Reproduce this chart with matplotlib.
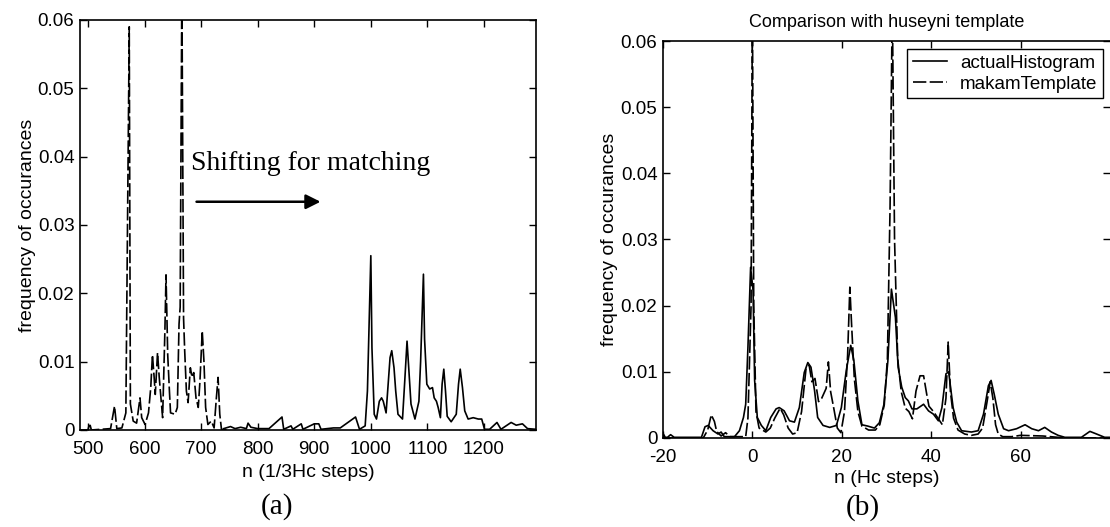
import numpy as np
import matplotlib
matplotlib.use("Agg")
import matplotlib.pyplot as plt

plt.rcParams['font.family'] = ['Liberation Sans', 'DejaVu Sans']
plt.rcParams['axes.unicode_minus'] = False

# (a) template in 1/3 Hc steps (dashed part)
tmpl_n = [486, 500, 503, 506, 540, 547, 551, 560, 567, 573, 575, 580, 586, 592, 595,
          601, 607, 611, 614, 617, 619, 623, 626, 629, 632, 636, 638, 641, 644, 646,
          654, 658, 661, 663, 666, 669, 671, 674, 677, 681, 684, 687, 691, 695, 698,
          702, 705, 708, 712, 718, 723, 727, 730, 733, 736, 745]
tmpl_y = [0.0, 0.0, 0.0010, 0.0, 0.0002, 0.0035, 0.0002, 0.0003, 0.0025, 0.0590, 0.0038,
          0.0013, 0.0010, 0.0047, 0.0018, 0.0008, 0.0025, 0.0062, 0.0110, 0.0077, 0.0052,
          0.0113, 0.0077, 0.0047, 0.0018, 0.0145, 0.0227, 0.0110, 0.0057, 0.0025, 0.0023,
          0.0033, 0.0155, 0.0180, 0.0655, 0.0164, 0.0116, 0.0057, 0.0040, 0.0091, 0.0077,
          0.0084, 0.0047, 0.0033, 0.0072, 0.0145, 0.0101, 0.0033, 0.0008, 0.0013, 0.0003,
          0.0047, 0.0077, 0.0023, 0.0001, 0.0]

# (a) actual histogram in 1/3 Hc steps (solid part)
hist_n = [740, 752, 760, 770, 780, 783, 788, 800, 820, 843, 846, 859, 862, 877, 880,
          900, 908, 912, 934, 946, 973, 980, 990, 994, 1000, 1002, 1006, 1010, 1015, 1019,
          1022, 1027, 1034, 1037, 1041, 1044, 1048, 1056, 1060, 1064, 1067, 1071, 1078,
          1085, 1088, 1093, 1095, 1099, 1104, 1109, 1112, 1116, 1119, 1123, 1126, 1129,
          1132, 1135, 1142, 1151, 1155, 1158, 1162, 1166, 1172, 1181, 1190, 1196, 1201,
          1210, 1223, 1230, 1248, 1257, 1268, 1277, 1292]
hist_y = [0.0002, 0.0005, 0.0002, 0.0004, 0.0002, 0.0010, 0.0004, 0.0002, 0.0002, 0.0019,
          0.0001, 0.0006, 0.0001, 0.0009, 0.0001, 0.0009, 0.0009, 0.0001, 0.0003, 0.0003,
          0.0019, 0.0001, 0.0006, 0.0057, 0.0255, 0.0120, 0.0023, 0.0016, 0.0042, 0.0047,
          0.0042, 0.0025, 0.0106, 0.0116, 0.0091, 0.0057, 0.0023, 0.0016, 0.0072, 0.0130,
          0.0091, 0.0038, 0.0016, 0.0042, 0.0100, 0.0228, 0.0133, 0.0067, 0.0060, 0.0062,
          0.0047, 0.0042, 0.0033, 0.0018, 0.0067, 0.0089, 0.0057, 0.0020, 0.0012, 0.0023,
          0.0067, 0.0089, 0.0062, 0.0028, 0.0016, 0.0018, 0.0016, 0.0016, 0.0001, 0.0001,
          0.0011, 0.0001, 0.0011, 0.0007, 0.0009, 0.0002, 0.0001]

# (b) actual histogram in Hc steps
act_n = [-20, -19.5, -19, -18.3, -17.5, -12, -11.4, -10.6, -9.9, -8.8, -7.7, -7.0, -6.3,
         -4.0, -2.9, -2.0, -1.5, -1.0, -0.4, 0.15, 0.5, 1.1, 2.0, 3.0, 4.1, 5.3, 6.0, 7.1,
         8.3, 9.4, 10.5, 11.6, 12.4, 13.1, 13.9, 14.6, 15.8, 17.3, 18.8, 19.9, 21.0, 22.0,
         22.7, 23.6, 24.5, 25.8, 27.3, 28.4, 29.4, 30.3, 31.1, 32.0, 32.6, 33.4, 34.2,
         34.9, 35.7, 36.8, 38.3, 39.4, 40.5, 41.6, 42.4, 43.3, 43.9, 44.9, 45.7, 46.8,
         49.0, 50.5, 51.7, 52.8, 53.4, 54.1, 55.0, 56.2, 57.3, 59.1, 61.0, 62.5, 64.0,
         65.4, 66.9, 68.4, 69.9, 73.6, 75.5, 77.0, 78.8, 80]
act_y = [0.0007, 0.0001, 0.0001, 0.0005, 0.0001, 0.0001, 0.0001, 0.0017, 0.0019, 0.0011,
         0.0006, 0.0009, 0.0002, 0.0002, 0.0011, 0.0031, 0.0051, 0.0137, 0.0258, 0.0223,
         0.0087, 0.0031, 0.0019, 0.0011, 0.0031, 0.0044, 0.0046, 0.0041, 0.0026, 0.0024,
         0.0046, 0.0099, 0.0114, 0.0107, 0.0072, 0.0031, 0.0019, 0.0016, 0.0019, 0.0046,
         0.0102, 0.0140, 0.0117, 0.0056, 0.0020, 0.0018, 0.0015, 0.0023, 0.0050, 0.0116,
         0.0225, 0.0182, 0.0107, 0.0077, 0.0061, 0.0056, 0.0044, 0.0044, 0.0051, 0.0041,
         0.0036, 0.0026, 0.0046, 0.0097, 0.0100, 0.0046, 0.0024, 0.0011, 0.0009, 0.0011,
         0.0036, 0.0079, 0.0087, 0.0066, 0.0036, 0.0014, 0.0011, 0.0014, 0.0020, 0.0014,
         0.0011, 0.0016, 0.0009, 0.0004, 0.0001, 0.0001, 0.0010, 0.0006, 0.0001, 0.0001]

# (b) makam template in Hc steps
mk_n = [-20, -11, -10, -9.2, -8.5, -8, -7, -6, -5, -1.5, -1, -0.3, 0, 0.3, 0.8, 1.5, 3,
        4, 5, 6.2, 7, 8, 9, 10, 11, 12, 12.7, 13.3, 14, 14.8, 15.5, 16.5, 17, 17.5, 18.2,
        19, 19.8, 20.6, 21.3, 21.8, 22.2, 22.8, 23.6, 24.5, 26, 27.5, 28.5, 29.5, 30.2,
        30.8, 31.3, 31.8, 32.5, 33.3, 34.2, 35, 35.8, 36.6, 37.5, 38.3, 39, 39.5, 40.5,
        41.5, 42.5, 43.3, 43.8, 44.3, 45, 46, 47.5, 49, 50.5, 51.5, 52.5, 53.2, 53.8,
        54.4, 55, 56, 58, 60, 65, 70, 80]
mk_y = [0.0, 0.0, 0.0012, 0.0035, 0.0025, 0.0010, 0.0003, 0.0008, 0.0002, 0.0002, 0.0030,
        0.0200, 0.0660, 0.0200, 0.0040, 0.0015, 0.0009, 0.0015, 0.0030, 0.0045, 0.0035,
        0.0015, 0.0006, 0.0008, 0.0040, 0.0105, 0.0110, 0.0085, 0.0090, 0.0055, 0.0060,
        0.0075, 0.0115, 0.0070, 0.0045, 0.0015, 0.0008, 0.0040, 0.0125, 0.0228, 0.0170,
        0.0090, 0.0040, 0.0018, 0.0012, 0.0012, 0.0020, 0.0050, 0.0120, 0.0350, 0.0660,
        0.0300, 0.0120, 0.0070, 0.0045, 0.0040, 0.0029, 0.0071, 0.0094, 0.0094, 0.0066,
        0.0048, 0.0040, 0.0030, 0.0020, 0.0060, 0.0145, 0.0070, 0.0030, 0.0012, 0.0006,
        0.0004, 0.0006, 0.0015, 0.0055, 0.0085, 0.0060, 0.0020, 0.0006, 0.0002, 0.0002,
        0.0004, 0.0003, 0.0, 0.0]

yticks = [0, 0.01, 0.02, 0.03, 0.04, 0.05, 0.06]
yticklabels = ['0', '0.01', '0.02', '0.03', '0.04', '0.05', '0.06']
ticks_a = [500, 600, 700, 800, 900, 1000, 1100, 1200]
ticks_b = [-20, 0, 20, 40, 60]

lw = 1.2
dash = (0, (8, 2))

fig = plt.figure(figsize=(11.1, 5.27), dpi=100)
ax1 = fig.add_axes([0.0721, 0.1841, 0.4108, 0.7780])
ax2 = fig.add_axes([0.5973, 0.1689, 0.4027, 0.7533])

def matlab_style(ax):
    for s in ax.spines.values():
        s.set_linewidth(1.2)
    ax.tick_params(direction='in', top=True, right=True, length=5, width=1.0,
                   labelsize=13.5, colors='black')
    ax.tick_params(axis='x', pad=8)
    ax.tick_params(axis='y', pad=4)
    ax.set_yticks(yticks)
    ax.set_yticklabels(yticklabels)
    ax.set_ylim(0, 0.06)

# (a)
ax1.plot(tmpl_n, tmpl_y, color='black', lw=lw, linestyle=dash)
ax1.plot(hist_n, hist_y, color='black', lw=lw)
matlab_style(ax1)
ax1.set_xlim(486, 1292)
ax1.set_xticks(ticks_a)
ax1.set_xlabel('n (1/3Hc steps)', fontsize=14, labelpad=4)
ax1.set_ylabel('frequency of occurances', fontsize=14, labelpad=1)
ax1.text(682, 0.039, 'Shifting for matching', family='Liberation Serif', fontsize=20,
         va='center', ha='left')
ax1.annotate('', xy=(916, 0.0334), xytext=(687, 0.0334),
             arrowprops=dict(arrowstyle='-|>', color='black', lw=1.8,
                             mutation_scale=22))

# (b)
ax2.plot(act_n, act_y, color='black', lw=lw, label='actualHistogram')
ax2.plot(mk_n, mk_y, color='black', lw=lw, linestyle=dash, label='makamTemplate')
matlab_style(ax2)
ax2.spines['right'].set_visible(False)
ax2.set_xlim(-20, 80)
ax2.set_xticks(ticks_b)
ax2.set_xlabel('n (Hc steps)', fontsize=14, labelpad=3)
ax2.set_ylabel('frequency of occurances', fontsize=14, labelpad=2)
ax2.set_title('Comparison with huseyni template', fontsize=13, pad=10)
leg = ax2.legend(loc='upper right', bbox_to_anchor=(0.984, 0.98), borderaxespad=0,
                 fontsize=13.5, fancybox=False, framealpha=1, edgecolor='black',
                 handlelength=1.8, handletextpad=0.7, labelspacing=0.2,
                 borderpad=0.3)
leg.get_frame().set_linewidth(1.0)

fig.text(0.2495, 0.038, '(a)', family='Liberation Serif', fontsize=21,
         ha='center', va='center')
fig.text(0.7775, 0.036, '(b)', family='Liberation Serif', fontsize=21,
         ha='center', va='center')

fig.savefig('out.png', dpi=100)
